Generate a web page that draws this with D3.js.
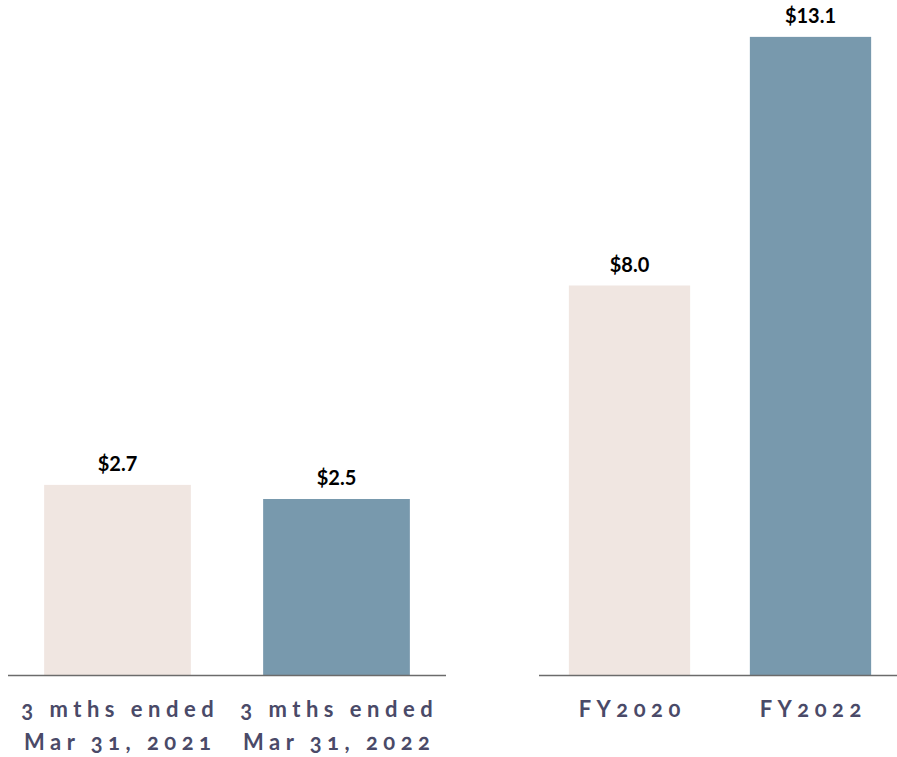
<!DOCTYPE html>
<html>
<head>
<meta charset="utf-8">
<script src="https://cdn.jsdelivr.net/npm/d3@7"></script>
<style>
  html, body { margin: 0; padding: 0; background: #fff; }
  svg { display: block; }
  .value { font-family: Lato, "Open Sans", sans-serif; font-weight: 700; font-size: 20px; fill: #000; }
  .cat { font-family: Lato, "Open Sans", sans-serif; font-weight: 700; font-size: 22px; fill: #4a4a68;
         letter-spacing: 5.5px; font-variant-numeric: oldstyle-nums; }
</style>
</head>
<body>
<script>
// Quarterly comparison (left panel)
const quarterCategories = [["3 mths ended", "Mar 31, 2021"], ["3 mths ended", "Mar 31, 2022"]];
const quarterValues = [2.7, 2.5];
// Fiscal year comparison (right panel)
const yearCategories = [["FY2020"], ["FY2022"]];
const yearValues = [8.0, 13.1];
const barColors = ["#f0e6e1", "#7899ad"];

const W = 897, H = 757;
const baseY = 675.5;
const svg = d3.select("body").append("svg").attr("width", W).attr("height", H);

function panel(cats, vals, xRange, lineRange, pxPerUnit) {
  const keys = cats.map((c, i) => i);
  const x = d3.scaleBand().domain(keys).range(xRange).paddingInner(0.33).paddingOuter(0.165);
  const y = d3.scaleLinear().domain([0, 1]).range([baseY, baseY - pxPerUnit]);
  const g = svg.append("g");

  g.selectAll("rect").data(vals).join("rect")
    .attr("x", (d, i) => x(i))
    .attr("width", x.bandwidth())
    .attr("y", d => y(d))
    .attr("height", d => y(0) - y(d))
    .attr("fill", (d, i) => barColors[i]);

  g.append("line")
    .attr("x1", lineRange[0]).attr("x2", lineRange[1])
    .attr("y1", baseY).attr("y2", baseY)
    .attr("stroke", "#6b6b6b").attr("stroke-width", 1.5);

  g.selectAll("text.value").data(vals).join("text")
    .attr("class", "value")
    .attr("x", (d, i) => x(i) + x.bandwidth() / 2)
    .attr("y", d => y(d) - 14)
    .attr("text-anchor", "middle")
    .text(d => "$" + d.toFixed(1));

  // letter-spacing adds trailing space, so shift by half of it to keep labels centred
  const labels = g.selectAll("text.cat").data(cats).join("text")
    .attr("class", "cat")
    .attr("text-anchor", "middle")
    .attr("x", (d, i) => x(i) + x.bandwidth() / 2 + 2.75);
  labels.selectAll("tspan").data(d => d).join("tspan")
    .attr("x", function () { return this.parentNode.getAttribute("x"); })
    .attr("y", (d, j) => 717 + j * 33)
    .text(d => d);
}

panel(quarterCategories, quarterValues, [8, 446], [8, 446], 70.6);
panel(yearCategories, yearValues, [539, 901], [539, 897], 48.75);
</script>
</body>
</html>
